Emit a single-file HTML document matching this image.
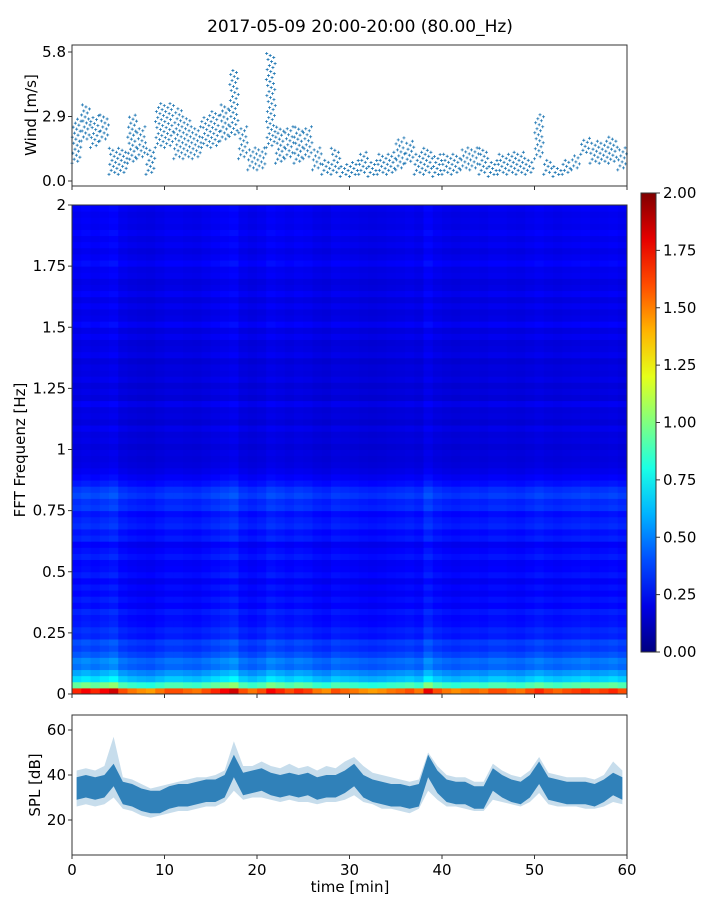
<!DOCTYPE html>
<html><head><meta charset="utf-8"><style>
body{margin:0;background:#fff;}
svg{display:block;font-family:"DejaVu Sans","Liberation Sans",sans-serif;}
</style></head><body>
<svg id="c" width="720" height="900" xmlns="http://www.w3.org/2000/svg">
<text x="360" y="32" text-anchor="middle" font-size="17">2017-05-09 20:00-20:00 (80.00_Hz)</text>
<g id="wind"></g>
<g id="spec"></g>
<g id="cbar"></g>
<g id="spl"></g>
</svg>
<script>
const windLow=[0.8,1.8,1.5,1.8,0.3,0.3,0.8,1.0,0.3,1.5,1.5,1.0,1.0,1.0,1.5,1.5,1.8,2.0,1.0,0.5,0.5,1.5,0.8,1.0,0.8,1.0,0.5,0.3,0.3,0.2,0.2,0.3,0.2,0.3,0.3,0.5,0.8,0.3,0.3,0.2,0.3,0.3,0.5,0.5,0.3,0.2,0.3,0.3,0.3,0.3,1.0,0.3,0.2,0.3,0.5,1.2,0.8,0.8,0.8,0.5];
const windHigh=[2.8,3.5,3.0,3.0,1.5,1.5,3.0,2.5,1.5,3.5,3.5,3.3,2.8,2.5,3.0,3.2,3.5,5.0,2.5,1.5,1.5,5.8,2.5,2.5,2.5,2.5,1.5,1.0,1.5,0.8,1.0,1.3,1.0,1.2,1.3,2.0,1.8,1.3,1.5,1.2,1.2,1.2,1.5,1.5,1.5,1.0,1.2,1.3,1.3,1.0,3.0,1.0,0.7,1.0,1.2,2.0,1.8,1.8,2.0,1.5];
const windTicks=[0.0,2.9,5.8];
const splLow=[26,27,26,27,30,25,24,22,21,22,23,24,24,25,26,26,28,33,29,30,30,29,28,29,28,28,27,28,28,29,31,28,27,25,25,24,23,25,33,29,26,26,25,24,24,29,28,27,26,28,32,27,26,26,26,25,25,26,28,27];
const splHigh=[42,43,42,44,57,39,38,36,34,35,36,37,38,39,39,40,42,55,44,44,46,44,43,45,43,44,42,44,43,46,48,44,41,40,39,38,37,38,50,44,40,39,39,37,37,45,42,40,39,42,48,41,40,39,39,39,38,40,46,42];
const splMid=[34,35,34,35,40,32,31,29,28,28,30,31,31,32,33,33,35,44,36,37,38,36,35,36,35,36,34,35,35,37,40,35,33,32,31,31,30,31,44,37,33,32,32,30,30,38,35,33,32,35,41,34,33,32,32,32,31,33,36,34];
const splTicks=[20,40,60];
const freqProfile=[1.6,0.9,0.65,0.55,0.45,0.48,0.4,0.35,0.38,0.3,0.32,0.28,0.27,0.3,0.25,0.28,0.24,0.27,0.23,0.28,0.25,0.24,0.29,0.26,0.23,0.3,0.27,0.32,0.3,0.27,0.34,0.32,0.37,0.34,0.28,0.24,0.21,0.19,0.18,0.19,0.17,0.19,0.18,0.21,0.17,0.19,0.18,0.22,0.17,0.19,0.17,0.2,0.18,0.19,0.17,0.21,0.19,0.18,0.22,0.19,0.24,0.2,0.19,0.22,0.19,0.23,0.2,0.19,0.22,0.21,0.25,0.22,0.2,0.23,0.21,0.24,0.21,0.22,0.21,0.23];
const timeMod=[1.05,1.1,1.05,1.1,1.15,1.0,0.95,0.92,0.9,0.95,1.0,1.0,0.97,0.95,1.0,1.05,1.1,1.15,1.0,0.95,1.0,1.1,1.05,1.0,1.05,1.02,0.95,0.92,1.0,0.97,0.95,0.92,0.9,0.92,0.95,0.97,1.0,0.95,1.12,1.0,0.95,0.92,0.95,0.97,0.95,1.0,1.0,0.97,0.95,1.0,1.05,1.0,0.97,1.0,1.02,1.05,1.0,1.02,1.05,1.0];
const timeTicks=[0,10,20,30,40,50,60];
const freqTicks=[0,0.25,0.5,0.75,1,1.25,1.5,1.75,2];
const freqTickLabels=["0","0.25","0.5","0.75","1","1.25","1.5","1.75","2"];
const cbarTicks=[0,0.25,0.5,0.75,1.0,1.25,1.5,1.75,2.0];

const NS="http://www.w3.org/2000/svg";
function mk(p,t,a){const e=document.createElementNS(NS,t);for(const k in a)e.setAttribute(k,a[k]);p.appendChild(e);return e;}
const X0=72,X1=627;
const xs=t=>X0+(t/60)*(X1-X0);
const wy=v=>181-v*(181-52)/5.8;
const fy=f=>694-f*(694-205)/2;
const sy=v=>820-(v-20)*2.25;
function jet(v){v=Math.max(0,Math.min(1,v));const r=Math.max(0,Math.min(1,1.5-Math.abs(4*v-3))),g=Math.max(0,Math.min(1,1.5-Math.abs(4*v-2))),b=Math.max(0,Math.min(1,1.5-Math.abs(4*v-1)));return `rgb(${Math.round(r*255)},${Math.round(g*255)},${Math.round(b*255)})`;}

// wind
const W=document.getElementById('wind');
for(let i=0;i<windLow.length;i++){
  const lo=windLow[i],hi=windHigh[i];
  let k=0;
  for(let v=lo;v<=hi+1e-6;v+=0.09){
    const x=xs(i+((k*0.618)%1)),y=wy(v);k++;
    const p=mk(W,'path',{d:`M${x-1.5},${y}h3M${x},${y-1.5}v3`,stroke:'#1f77b4','stroke-width':0.8});
    
    
  }
}
mk(W,'rect',{x:X0,y:45,width:X1-X0,height:141,fill:'none',stroke:'#333','stroke-width':1});
windTicks.forEach((t,i)=>{const y=wy(t);mk(W,'line',{x1:X0-4,x2:X0,y1:y,y2:y,stroke:'#333'});const tx=mk(W,'text',{x:X0-6,y:y+5,'text-anchor':'end','font-size':15});tx.textContent=t.toFixed(1);});
timeTicks.forEach(t=>mk(W,'line',{x1:xs(t),x2:xs(t),y1:186,y2:190,stroke:'#333'}));
const wl=mk(W,'text',{x:36,y:115,'text-anchor':'middle','font-size':15,transform:'rotate(-90 36 115)'});wl.textContent='Wind [m/s]';


// spectrogram
const S=document.getElementById('spec');
const nf=freqProfile.length,nt=timeMod.length;
for(let i=0;i<nf;i++){for(let j=0;j<nt;j++){
  const v=freqProfile[i]*timeMod[j];
  const y0=fy((i+1)*2/nf),y1=fy(i*2/nf);
  const r=mk(S,'rect',{x:xs(j),y:y0,width:xs(j+1)-xs(j)+0.5,height:y1-y0+0.5,fill:jet(v/2)});
  
  
}}
mk(S,'rect',{x:X0,y:205,width:X1-X0,height:489,fill:'none',stroke:'#333'});
freqTicks.forEach((f,i)=>{const y=fy(f);mk(S,'line',{x1:X0-4,x2:X0,y1:y,y2:y,stroke:'#333'});const tx=mk(S,'text',{x:X0-6,y:y+5,'text-anchor':'end','font-size':15});tx.textContent=freqTickLabels[i];});
timeTicks.forEach(t=>mk(S,'line',{x1:xs(t),x2:xs(t),y1:694,y2:698,stroke:'#333'}));
const fl=mk(S,'text',{x:25,y:450,'text-anchor':'middle','font-size':15,transform:'rotate(-90 25 450)'});fl.textContent='FFT Frequenz [Hz]';


// colorbar
const C=document.getElementById('cbar');
const defs=mk(C,'defs',{});const lg=mk(defs,'linearGradient',{id:'jg',x1:0,y1:1,x2:0,y2:0});
for(let k=0;k<=10;k++)mk(lg,'stop',{offset:k/10,'stop-color':jet(k/10)});
mk(C,'rect',{x:641,y:193,width:15,height:459,fill:'url(#jg)',stroke:'#333'});
cbarTicks.forEach(t=>{const y=652-t/2*459;mk(C,'line',{x1:656,x2:660,y1:y,y2:y,stroke:'#333'});const tx=mk(C,'text',{x:663,y:y+5,'font-size':15});tx.textContent=t.toFixed(2);});

// SPL
const P=document.getElementById('spl');
let dHi='',dLo='',mHi='',mLo='';
for(let i=0;i<splLow.length;i++){const x=xs(i+0.5);dHi+=(i?'L':'M')+x+','+sy(splHigh[i]);mHi+=(i?'L':'M')+x+','+sy(splMid[i]+5);}
for(let i=splLow.length-1;i>=0;i--){const x=xs(i+0.5);dLo+='L'+x+','+sy(splLow[i]);mLo+='L'+x+','+sy(splMid[i]-5);}
const b1=mk(P,'path',{d:dHi+dLo+'Z',fill:'#1f77b4','fill-opacity':0.25});

const b2=mk(P,'path',{d:mHi+mLo+'Z',fill:'#1f77b4','fill-opacity':0.9});

mk(P,'rect',{x:X0,y:715,width:X1-X0,height:140,fill:'none',stroke:'#333'});
splTicks.forEach(t=>{const y=sy(t);mk(P,'line',{x1:X0-4,x2:X0,y1:y,y2:y,stroke:'#333'});const tx=mk(P,'text',{x:X0-6,y:y+5,'text-anchor':'end','font-size':15});tx.textContent=t;});
timeTicks.forEach(t=>{const x=xs(t);mk(P,'line',{x1:x,x2:x,y1:855,y2:859,stroke:'#333'});const tx=mk(P,'text',{x:x,y:875,'text-anchor':'middle','font-size':15});tx.textContent=t;});
const sl=mk(P,'text',{x:40,y:785,'text-anchor':'middle','font-size':15,transform:'rotate(-90 40 785)'});sl.textContent='SPL [dB]';

const xl=mk(P,'text',{x:350,y:892,'text-anchor':'middle','font-size':15});xl.textContent='time [min]';

</script>
</body></html>
